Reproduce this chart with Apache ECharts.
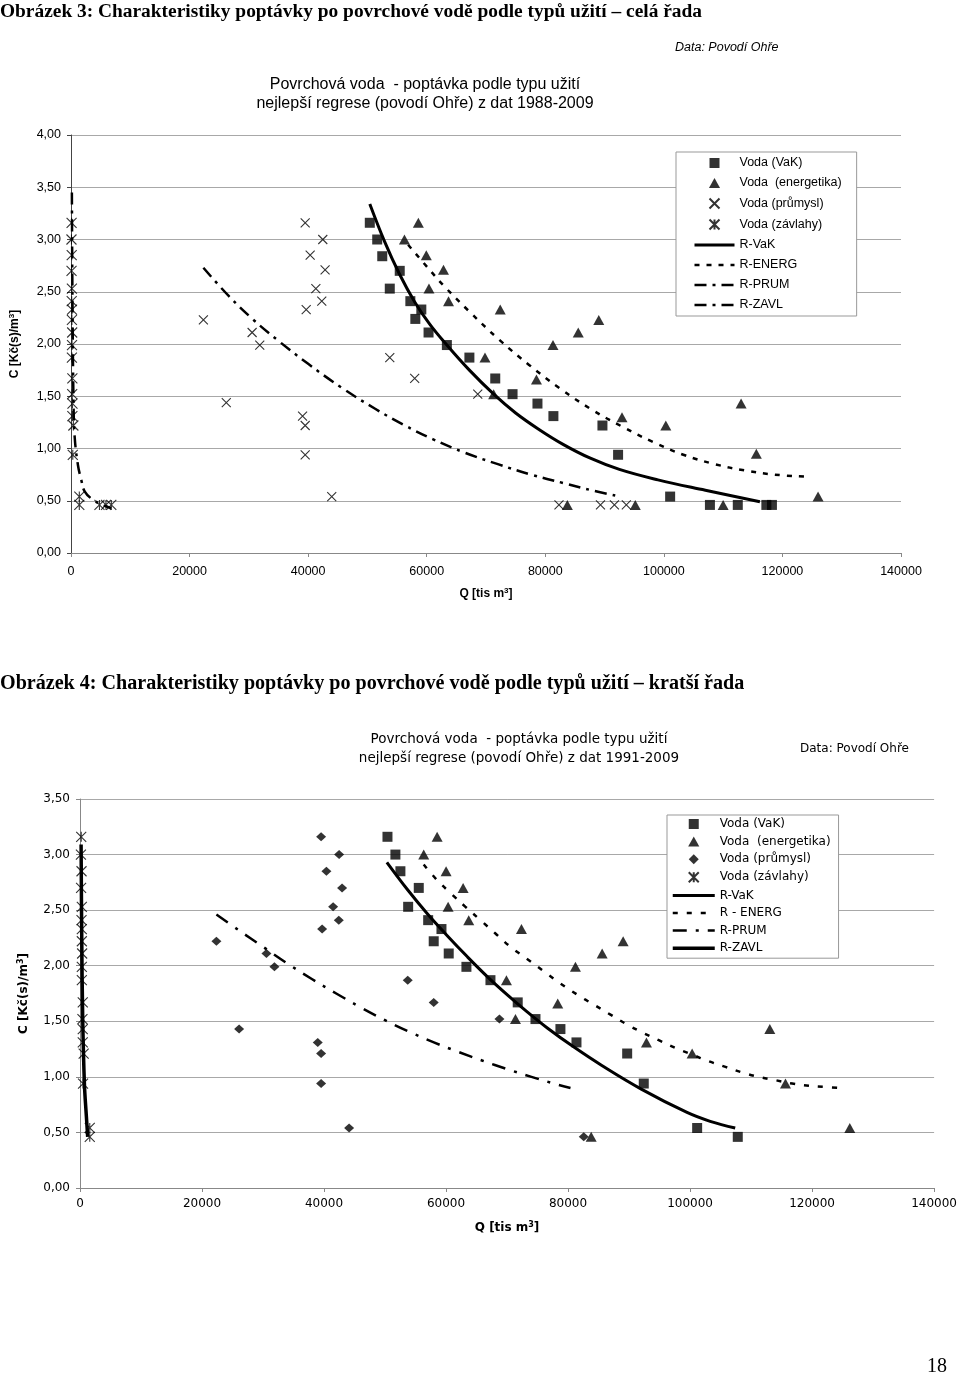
<!DOCTYPE html>
<html><head><meta charset="utf-8">
<script src="https://cdn.jsdelivr.net/npm/echarts@6.0.0/dist/echarts.min.js"></script>
<style>html,body{margin:0;padding:0;background:#fff}
#a{position:absolute;left:0;top:0;width:960px;height:660px}
#b{position:absolute;left:0;top:660px;width:960px;height:718px}</style>
</head><body><div id="a"></div><div id="b"></div>
<script>
// ---------- shared tick values ----------
const xTicks = [0, 20000, 40000, 60000, 80000, 100000, 120000, 140000];
const yTicksTop = [0, 0.5, 1, 1.5, 2, 2.5, 3, 3.5, 4];
const yTicksBottom = [0, 0.5, 1, 1.5, 2, 2.5, 3, 3.5];

// ---------- Obrázek 3 (1988-2009) : observed points [Q, C] ----------
const vakTop = [[50400,3.16],[51650,3.00],[52500,2.84],[55450,2.70],[53770,2.53],[57240,2.41],[59090,2.33],[58080,2.24],[60310,2.11],[63400,1.99],[67200,1.87],[71560,1.67],[74480,1.52],[78680,1.43],[81370,1.31],[89640,1.22],[92280,0.94],[101060,0.54],[107770,0.46],[112470,0.46],[117290,0.46],[118230,0.46]];
const energTop = [[58590,3.16],[56240,3.00],[59930,2.85],[62830,2.71],[60380,2.53],[63680,2.41],[72400,2.33],[69830,1.87],[71290,1.52],[78510,1.66],[81300,1.99],[85560,2.11],[89020,2.23],[92940,1.30],[100330,1.22],[113030,1.43],[115600,0.95],[83720,0.46],[95180,0.46],[110000,0.46],[126010,0.54]];
const prumTop = [[22330,2.23],[26190,1.44],[30550,2.11],[31840,1.99],[39500,3.16],[42470,3.00],[40340,2.85],[42860,2.71],[41300,2.53],[42300,2.41],[39670,2.33],[39060,1.31],[39500,1.22],[39500,0.94],[43980,0.54],[53770,1.87],[57970,1.67],[68610,1.52],[82310,0.46],[89310,0.46],[91660,0.46],[93670,0.46]];
const zavlTop = [[100,3.16],[80,3.00],[120,2.85],[90,2.70],[150,2.53],[120,2.41],[170,2.33],[150,2.23],[200,2.11],[170,1.99],[150,1.87],[230,1.67],[200,1.52],[250,1.43],[230,1.31],[400,1.22],[300,0.94],[1400,0.54],[1400,0.46],[4800,0.46],[5900,0.46],[6800,0.46]];
// regression curves
const rVakTop = [[50400,3.34],[52900,2.98],[55400,2.67],[58000,2.40],[60500,2.19],[63400,1.99],[67200,1.75],[71300,1.52],[75000,1.34],[79000,1.18],[83000,1.04],[87500,0.91],[92500,0.80],[99000,0.70],[107000,0.60],[116200,0.49]];
const rEnergTop = [[56860,2.95],[60480,2.71],[63000,2.55],[67200,2.31],[72240,2.04],[77270,1.80],[82590,1.57],[87910,1.37],[92950,1.21],[98250,1.06],[103290,0.94],[108610,0.85],[113650,0.79],[118680,0.75],[124000,0.73]];
const rPrumTop = [[22330,2.73],[26600,2.46],[30600,2.24],[35000,2.03],[40000,1.81],[45700,1.58],[51300,1.38],[56000,1.23],[61000,1.09],[66400,0.96],[72000,0.85],[77600,0.75],[83000,0.67],[88200,0.595],[91800,0.55]];
const rZavlTop = [[150,3.45],[250,2.42],[420,1.46],[620,1.11],[1175,0.84],[1730,0.70],[2300,0.59],[3690,0.51],[5370,0.46],[6770,0.43]];

// ---------- Obrázek 4 (1991-2009) ----------
const vakBot = [[50400,3.16],[51700,3.00],[52520,2.85],[55530,2.70],[53790,2.53],[57070,2.41],[59250,2.33],[57980,2.22],[60440,2.11],[63340,1.99],[67280,1.87],[71750,1.67],[74660,1.52],[78750,1.43],[81380,1.31],[89690,1.21],[92410,0.94],[101160,0.54],[107820,0.46]];
const energBot = [[58540,3.16],[56340,3.00],[60010,2.85],[62800,2.70],[60340,2.53],[63720,2.41],[72360,2.33],[69900,1.87],[71380,1.52],[78310,1.66],[81210,1.99],[85590,2.11],[89030,2.22],[92850,1.31],[100340,1.21],[113070,1.43],[115640,0.94],[126180,0.54],[83790,0.46]];
const prumBot = [[39520,3.16],[42470,3.00],[40390,2.85],[42960,2.70],[41490,2.53],[42420,2.41],[39690,2.33],[22360,2.22],[30560,2.11],[31870,1.99],[53720,1.87],[57980,1.67],[68750,1.52],[26080,1.43],[38970,1.31],[39520,1.21],[39520,0.94],[44110,0.54],[82570,0.46]];
const zavlBot = [[200,3.16],[150,3.00],[250,2.85],[180,2.70],[300,2.53],[250,2.41],[300,2.33],[300,2.22],[350,2.11],[300,1.99],[300,1.87],[450,1.67],[400,1.52],[450,1.43],[450,1.31],[600,1.21],[500,0.94],[1600,0.54],[1600,0.46]];
const rVakBot = [[50300,2.93],[53600,2.69],[56900,2.47],[60200,2.27],[63500,2.08],[66800,1.90],[70000,1.74],[73300,1.585],[76600,1.44],[80900,1.27],[85600,1.10],[92000,0.89],[99500,0.68],[103300,0.60],[107400,0.54]];
const rEnergBot = [[56340,2.91],[58540,2.77],[61000,2.64],[63180,2.53],[65640,2.41],[68100,2.29],[70560,2.17],[73290,2.06],[76020,1.95],[78750,1.84],[81490,1.74],[84210,1.65],[86950,1.56],[89690,1.47],[92150,1.40],[94870,1.33],[97610,1.26],[100340,1.20],[103070,1.14],[105800,1.09],[108540,1.04],[111260,1.00],[114000,0.97],[116740,0.94],[119460,0.92],[121920,0.91],[124660,0.90]];
const rPrumBot = [[22360,2.46],[26000,2.32],[30000,2.17],[34000,2.02],[38000,1.88],[42000,1.75],[46000,1.625],[50000,1.51],[54000,1.405],[58000,1.31],[62000,1.225],[66000,1.145],[70000,1.07],[74000,1.00],[78000,0.935],[80400,0.90]];
const rZavlBot = [[180,3.09],[280,2.29],[440,1.54],[720,0.94],[1050,0.64],[1260,0.46]];

// ---------- texts ----------
const namesTop = ['Voda (VaK)', 'Voda  (energetika)', 'Voda (průmysl)', 'Voda (závlahy)', 'R-VaK', 'R-ENERG', 'R-PRUM', 'R-ZAVL'];
const namesBot = ['Voda (VaK)', 'Voda  (energetika)', 'Voda (průmysl)', 'Voda (závlahy)', 'R-VaK', 'R - ENERG', 'R-PRUM', 'R-ZAVL'];

const FA = '"Liberation Sans", Arial, sans-serif';
const FB = '"DejaVu Sans", sans-serif';
const SERIF = '"Liberation Serif", "Times New Roman", serif';

const SYM_SQ = 'path://M0,0L10,0L10,10L0,10Z';
const SYM_TRI = 'path://M5,0L10,9L0,9Z';
const SYM_DIA = 'path://M5,0L10,5L5,10L0,5Z';
const SYM_X = 'path://M0,0L10,10M10,0L0,10';
const SYM_AST = 'path://M0,0L10,10M10,0L0,10M5,0L5,10';

const fmtY = v => v.toFixed(2).replace('.', ',');
const fmtX = v => String(v);

function scatter(name, data, symbol, size, open) {
  return {
    type: 'scatter', name, data, symbol, symbolSize: size, z: 3, silent: true,
    itemStyle: open ? { color: 'none', borderColor: '#000', borderWidth: 1.1 } : { color: '#000' }
  };
}
function curve(name, data, width, type) {
  return {
    type: 'line', name, data, symbol: 'none', smooth: 0.4, z: 2, silent: true,
    itemStyle: { color: 'rgba(0,0,0,0)', borderWidth: 0 },
    lineStyle: { color: '#000', width, type, join: 'round' }
  };
}
function axes(font, fs, axisYColor, ymax, xNameGap, xLabelMargin) {
  const rich = { sup: { fontSize: 8, fontWeight: 'bold', fontFamily: font, color: '#000', verticalAlign: 'top', lineHeight: 10 } };
  return {
    xAxis: {
      type: 'value', min: 0, max: 140000, interval: 20000,
      axisLine: { show: true, lineStyle: { color: '#888', width: 1 } },
      axisTick: { show: true, length: 4, lineStyle: { color: '#888' } },
      axisLabel: { margin: xLabelMargin, fontSize: fs, fontFamily: font, color: '#000', formatter: fmtX },
      splitLine: { show: false },
      name: 'Q [tis m{sup|3}]', nameLocation: 'middle', nameGap: xNameGap,
      nameTextStyle: { fontSize: 12, fontWeight: 'bold', fontFamily: font, color: '#000', lineHeight: 14, rich }
    },
    yAxis: {
      type: 'value', min: 0, max: ymax, interval: 0.5,
      axisLine: { show: true, lineStyle: { color: axisYColor, width: 1 } },
      axisTick: { show: true, length: 4, lineStyle: { color: axisYColor } },
      axisLabel: { margin: 10, fontSize: fs, fontFamily: font, color: '#000', formatter: fmtY },
      splitLine: { show: true, lineStyle: { color: '#a8a8a8', width: 1 } },
      name: 'C [Kč(s)/m{sup|3}]', nameLocation: 'middle', nameGap: 49,
      nameTextStyle: { fontSize: 12, fontWeight: 'bold', fontFamily: font, color: '#000', lineHeight: 14, rich }
    }
  };
}
function txt(x, y, text, font, size, opts) {
  return { type: 'text', x, y, silent: true,
    style: Object.assign({ text, fontFamily: font, fontSize: size, fill: '#000', align: 'left', verticalAlign: 'middle' }, opts || {}) };
}

// ---------- chart A ----------
const axA = axes(FA, 12.5, '#444', 4, 34, 12);
const optA = {
  animation: false,
  grid: { left: 68, top: 135, width: 833, height: 418 },
  xAxis: axA.xAxis, yAxis: axA.yAxis,
  legend: {
    data: namesTop, orient: 'vertical', left: 676, top: 152,
    padding: [4, 15, 4, 17], itemWidth: 40, itemHeight: 10, itemGap: 6,
    borderColor: '#999', borderWidth: 1, backgroundColor: '#fff', selectedMode: false,
    lineStyle: { width: 'inherit' },
    textStyle: { fontSize: 12.5, fontFamily: FA, color: '#000', lineHeight: 14 }
  },
  graphic: [
    txt(0, 12, 'Obrázek 3: Charakteristiky poptávky po povrchové vodě podle typů užití – celá řada', SERIF, 19.4, { fontWeight: 'bold' }),
    txt(425, 85, 'Povrchová voda  - poptávka podle typu užití', FA, 16, { align: 'center' }),
    txt(425, 104, 'nejlepší regrese (povodí Ohře) z dat 1988-2009', FA, 16, { align: 'center' }),
    txt(675, 48, 'Data: Povodí Ohře', FA, 12.5, { fontStyle: 'italic' })
  ],
  series: [
    scatter(namesTop[0], vakTop, SYM_SQ, 10, false),
    scatter(namesTop[1], energTop, SYM_TRI, [11, 10], false),
    scatter(namesTop[2], prumTop, SYM_X, 9, true),
    scatter(namesTop[3], zavlTop, SYM_AST, 10, true),
    curve(namesTop[4], rVakTop, 3, 'solid'),
    curve(namesTop[5], rEnergTop, 2.5, [5, 7]),
    curve(namesTop[6], rPrumTop, 2.5, [12, 6, 3, 6]),
    curve(namesTop[7], rZavlTop, 2.5, [12, 6, 3, 6])
  ]
};

// ---------- chart B ----------
const axB = axes(FB, 12, '#888', 3.5, 33, 10);
const optB = {
  animation: false,
  grid: { left: 80, top: 139, width: 855, height: 389 },
  xAxis: axB.xAxis, yAxis: axB.yAxis,
  legend: {
    data: namesBot, orient: 'vertical', left: 667, top: 155,
    padding: [2, 8, 3, 4], itemWidth: 42, itemHeight: 10, itemGap: 3.6,
    borderColor: '#999', borderWidth: 1, backgroundColor: '#fff', selectedMode: false,
    lineStyle: { width: 'inherit' },
    textStyle: { fontSize: 12, fontFamily: FB, color: '#000', lineHeight: 14 }
  },
  graphic: [
    txt(0, 24, 'Obrázek 4: Charakteristiky poptávky po povrchové vodě podle typů užití – kratší řada', SERIF, 20.1, { fontWeight: 'bold' }),
    txt(519, 79, 'Povrchová voda  - poptávka podle typu užití', FB, 13.5, { align: 'center' }),
    txt(519, 98, 'nejlepší regrese (povodí Ohře) z dat 1991-2009', FB, 13.5, { align: 'center' }),
    txt(800, 89, 'Data: Povodí Ohře', FB, 12),
    txt(937, 707, '18', SERIF, 20, { align: 'center' })
  ],
  series: [
    scatter(namesBot[0], vakBot, SYM_SQ, 10, false),
    scatter(namesBot[1], energBot, SYM_TRI, [11, 10], false),
    scatter(namesBot[2], prumBot, SYM_DIA, [10, 9], false),
    scatter(namesBot[3], zavlBot, SYM_AST, 10, true),
    curve(namesBot[4], rVakBot, 3, 'solid'),
    curve(namesBot[5], rEnergBot, 2.5, [5, 9]),
    curve(namesBot[6], rPrumBot, 2.5, [14, 9, 3, 9]),
    curve(namesBot[7], rZavlBot, 3.5, 'solid')
  ]
};

echarts.init(document.getElementById('a'), null, { renderer: 'canvas' }).setOption(optA);
echarts.init(document.getElementById('b'), null, { renderer: 'canvas' }).setOption(optB);
</script>
</body></html>
